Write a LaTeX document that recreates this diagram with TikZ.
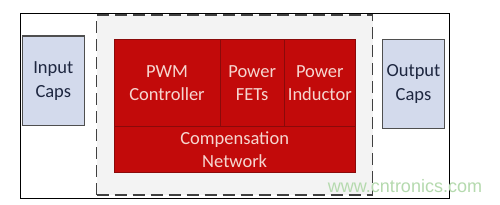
\documentclass[tikz,border=0pt]{standalone}
\usepackage{fontspec}
\setmainfont{Carlito}
\newfontfamily\wmfont{Liberation Sans}
\definecolor{redfill}{HTML}{C20A0A}
\definecolor{redline}{HTML}{8A0A0A}
\definecolor{redtext}{HTML}{F6D6D0}
\definecolor{capfill}{HTML}{D3DAEC}
\definecolor{capline}{HTML}{4F4F4F}
\definecolor{captext}{HTML}{1E2740}
\definecolor{dashfill}{HTML}{F3F3F3}
\definecolor{wmgreen}{HTML}{B5DAAE}
\begin{document}
\begin{tikzpicture}[x=1pt,y=-1pt,
  redbox/.style={rectangle, draw=redline, line width=1pt, fill=redfill, text=redtext, align=center, inner sep=0pt, font=\fontsize{18.5}{23.5}\selectfont},
  capbox/.style={rectangle, draw=capline, line width=1.3pt, fill=capfill, text=captext, align=center, inner sep=0pt, font=\fontsize{18.5}{23.5}\selectfont},
  outerbox/.style={rectangle, draw=black, line width=0.8pt, fill=white},
  dashbox/.style={rectangle, draw=black!75, line width=1.1pt, dash pattern=on 12pt off 6pt, fill=dashfill}]
\useasboundingbox (0,0) rectangle (500,204);
\fill[white] (0,0) rectangle (500,204);
\node[outerbox, minimum width=428.3pt, minimum height=184.7pt] (outer) at (234.85,105.65) {};
\node[dashbox, minimum width=276pt, minimum height=180pt] (dash) at (234.7,105) {};
\node[capbox, minimum width=62pt, minimum height=89.7pt] (incaps) at (53.3,80.85) {Input\\Caps};
\node[capbox, minimum width=62.4pt, minimum height=89pt] (outcaps) at (413.5,83.8) {Output\\Caps};
\node[redbox, minimum width=106pt, minimum height=87.4pt] (pwm) at (167,83) {PWM\\Controller};
\node[redbox, minimum width=64.3pt, minimum height=87.4pt] (fets) at (252.15,83) {Power\\FETs};
\node[redbox, minimum width=71pt, minimum height=87.4pt] (ind) at (319.8,83) {Power\\Inductor};
\node[redbox, minimum width=241.3pt, minimum height=45.6pt] (comp) at (234.65,149.5) {Compensation\\Network};
\node[text=wmgreen, font=\wmfont\fontsize{18}{20}\selectfont, inner sep=0pt] (wm) at (405,186) {www.cntronics.com};
\end{tikzpicture}
\end{document}
